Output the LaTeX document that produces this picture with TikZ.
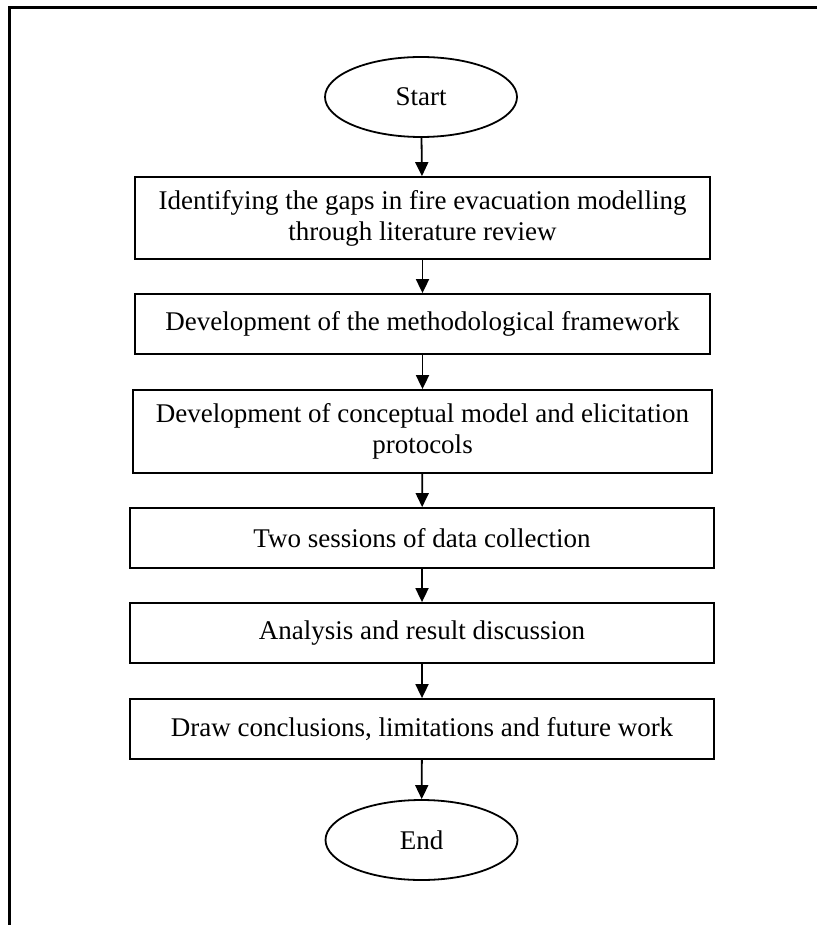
\documentclass[tikz,border=0pt]{standalone}
\usepackage{fontspec}
\setmainfont{Liberation Serif}
\usetikzlibrary{arrows.meta,shapes.geometric}
\begin{document}
\begin{tikzpicture}[x=1pt,y=-1pt,
  txt/.style={font=\fontsize{27}{31}\selectfont},
  stepbox/.style={txt, draw, line width=1.8pt, rectangle, align=center, inner sep=0pt},
  term/.style={txt, draw, line width=1.8pt, ellipse, minimum width=192pt, minimum height=80pt, inner sep=0pt},
  arr/.style={-{Triangle[length=14pt,width=13pt]}, line width=1.8pt}]
\useasboundingbox (0,0) rectangle (817,925);
\draw[line width=2.2pt] (817,7.5) -- (9.5,7.5) -- (9.5,925);
\node[term] (start) at (421,97) {Start};
\node[stepbox, minimum width=575pt, minimum height=82pt] (s1) at (422.5,218) {Identifying the gaps in fire evacuation modelling\\through literature review};
\node[stepbox, minimum width=575pt, minimum height=60pt] (s2) at (422.5,324) {Development of the methodological framework};
\node[stepbox, minimum width=579pt, minimum height=83pt] (s3) at (422.5,431.5) {Development of conceptual model and elicitation\\protocols};
\node[stepbox, minimum width=584pt, minimum height=60pt] (s4) at (422,538) {Two sessions of data collection};
\node[stepbox, minimum width=584pt, minimum height=60pt] (s5) at (422,633) {Analysis and result discussion};
\node[stepbox, minimum width=584pt, minimum height=60pt] (s6) at (422,729) {Draw conclusions, limitations and future work};
\node[term] (end) at (421.5,840) {End};
\draw[arr] (start) -- (s1);
\draw[arr] (s1) -- (s2);
\draw[arr] (s2) -- (s3);
\draw[arr] (s3) -- (s4);
\draw[arr] (s4) -- (s5);
\draw[arr] (s5) -- (s6);
\draw[arr] (s6) -- (end);
\end{tikzpicture}
\end{document}
